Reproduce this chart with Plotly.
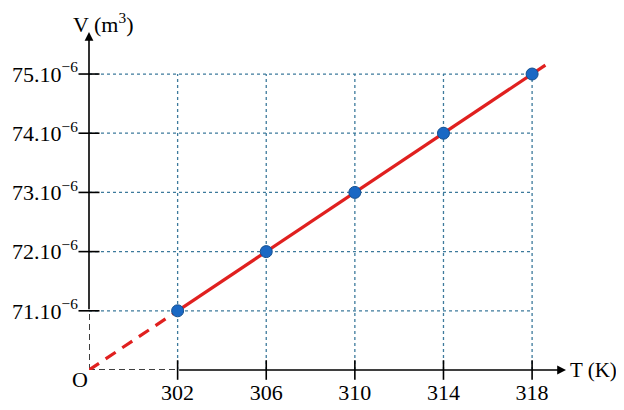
import numpy as np
import plotly.graph_objects as go

# ---- data (V in units of 10^-6 m^3) ----
T_values = [302, 306, 310, 314, 318]
V_mantissa = [71, 72, 73, 74, 75]
x_tick_labels = ["302", "306", "310", "314", "318"]
y_tick_labels = [f"{v}.10<sup>−6</sup>" for v in V_mantissa]

# axis break / origin "O" and axis extents
T0, V0 = 298, 70
X_MAX, Y_MAX = 319.53, 75.71
EXTEND = 0.6  # how far the fitted line runs past the last point

slope, intercept = np.polyfit(T_values, V_mantissa, 1)
fit = lambda t: slope * np.asarray(t, dtype=float) + intercept

GRID = "#3d7a9c"
RED = "#e0201f"
BLUE = "#1a68c4"
FONT = "Liberation Serif, Times New Roman, serif"
FS = 22

fig = go.Figure()

# dotted grid (bounded by the data range)
gx, gy = [], []
for t in T_values:
    gx += [t, t, None]
    gy += [V0, V_mantissa[-1], None]
for v in V_mantissa:
    gx += [T0, T_values[-1], None]
    gy += [v, v, None]
fig.add_trace(go.Scatter(x=gx, y=gy, mode="lines",
                         line=dict(color=GRID, width=1.3, dash="dot"),
                         hoverinfo="skip", cliponaxis=False))

# dashed black axis parts between O and the first ticks
fig.add_trace(go.Scatter(x=[T0, T_values[0], None, T0, T0],
                         y=[V0, V0, None, V0, V_mantissa[0]],
                         mode="lines", line=dict(color="black", width=1.5, dash="6px,4px"),
                         hoverinfo="skip", cliponaxis=False))

# tick marks crossing the axes
fig.add_trace(go.Scatter(x=T_values, y=[V0] * len(T_values), mode="markers",
                         marker=dict(symbol="line-ns", size=14,
                                     line=dict(color="black", width=1.6)),
                         hoverinfo="skip", cliponaxis=False))
fig.add_trace(go.Scatter(x=[T0] * len(V_mantissa), y=V_mantissa, mode="markers",
                         marker=dict(symbol="line-ew", size=15,
                                     line=dict(color="black", width=1.6)),
                         hoverinfo="skip", cliponaxis=False))

# red extrapolated (dashed) and measured (solid) line
xd = [T0, T_values[0]]
fig.add_trace(go.Scatter(x=xd, y=fit(xd), mode="lines",
                         line=dict(color=RED, width=3.2, dash="12px,8px"),
                         hoverinfo="skip", cliponaxis=False))
xs = [T_values[0], T_values[-1] + EXTEND]
fig.add_trace(go.Scatter(x=xs, y=fit(xs), mode="lines",
                         line=dict(color=RED, width=3.2),
                         hoverinfo="skip", cliponaxis=False))

# data points
fig.add_trace(go.Scatter(x=T_values, y=V_mantissa, mode="markers",
                         marker=dict(color=BLUE, size=12,
                                     line=dict(color="#15508f", width=1)),
                         cliponaxis=False))

annotations = [
    # x axis (solid with arrow)
    dict(x=X_MAX, y=V0, ax=T_values[0], ay=V0, xref="x", yref="y",
         axref="x", ayref="y", text="", showarrow=True, arrowhead=2,
         arrowsize=1.1, arrowwidth=1.6, arrowcolor="black", standoff=0),
    # y axis (solid with arrow)
    dict(x=T0, y=Y_MAX, ax=T0, ay=V_mantissa[0], xref="x", yref="y",
         axref="x", ayref="y", text="", showarrow=True, arrowhead=2,
         arrowsize=1.1, arrowwidth=1.6, arrowcolor="black", standoff=0),
    dict(x=T0, y=V0, xref="x", yref="y", text="O", showarrow=False,
         xanchor="right", yanchor="top", xshift=1, yshift=5,
         font=dict(family=FONT, size=FS, color="black")),
    dict(x=X_MAX, y=V0, xref="x", yref="y", text="T (K)", showarrow=False,
         xanchor="left", yanchor="middle", xshift=3, borderpad=0,
         font=dict(family=FONT, size=21, color="black")),
    dict(x=T0, y=1, xref="x", yref="paper", text="V (m<sup>3</sup>)",
         showarrow=False, xanchor="center", yanchor="bottom", xshift=14,
         yshift=-6, borderpad=0, font=dict(family=FONT, size=FS, color="black")),
]

# the page adds an 8 px body margin, so the figure is 8 px smaller each way
fig.update_layout(
    width=616, height=402,
    margin=dict(l=81, r=58, t=24, b=40, autoexpand=False),
    paper_bgcolor="white", plot_bgcolor="white",
    showlegend=False,
    font=dict(family=FONT, size=FS, color="black"),
    annotations=annotations,
    xaxis=dict(range=[T0, X_MAX], tickvals=T_values, ticktext=x_tick_labels,
               showgrid=False, zeroline=False, showline=False, ticks="",
               ticklabelstandoff=7, automargin=False, fixedrange=True),
    yaxis=dict(range=[V0, Y_MAX], tickvals=V_mantissa, ticktext=y_tick_labels,
               showgrid=False, zeroline=False, showline=False, ticks="",
               ticklabelstandoff=10, automargin=False, fixedrange=True),
)

fig.write_html("out.html")
